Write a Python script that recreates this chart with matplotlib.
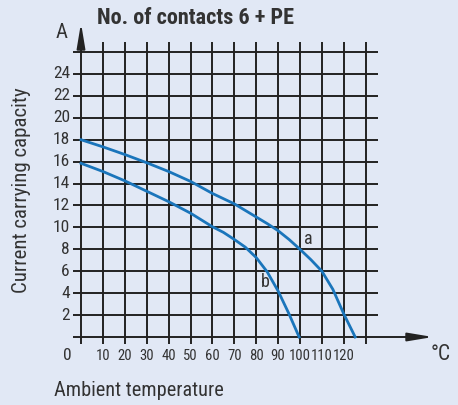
import matplotlib
matplotlib.use("Agg")
import matplotlib.pyplot as plt
from matplotlib import font_manager

# data
temp_a = [0, 10, 20, 30, 40, 50, 60, 70, 80, 85, 90, 95, 100, 105, 110, 115, 120, 125.2]
curr_a = [18.0, 17.35, 16.65, 15.9, 15.1, 14.2, 13.1, 12.15, 10.95, 10.35, 9.7, 8.9, 8.0, 7.05, 6.0, 4.35, 2.1, 0.0]
temp_b = [0, 10, 20, 30, 40, 50, 60, 65, 70, 75, 80, 85, 90, 95, 99.6]
curr_b = [15.85, 15.1, 14.25, 13.3, 12.35, 11.3, 10.06, 9.55, 8.9, 8.2, 7.25, 5.95, 4.2, 2.1, 0.0]
x_ticks = [10, 20, 30, 40, 50, 60, 70, 80, 90, 100, 110, 120]
y_ticks = [2, 4, 6, 8, 10, 12, 14, 16, 18, 20, 22, 24]
grid_x = list(range(0, 140, 10))
grid_y = list(range(2, 28, 2))
title = "No. of contacts 6 + PE"
ylabel = "Current carrying capacity"
xlabel = "Ambient temperature"

BG = "#e1e8f5"
INK = "#222222"
TXT = "#333333"
BLUE = "#1a75bb"

names = {f.name for f in font_manager.fontManager.ttflist}
narrow = None
for cand in ["Liberation Sans Narrow", "Roboto Condensed", "Open Sans Condensed", "DejaVu Sans Condensed"]:
    if cand in names:
        narrow = cand
        break
stretch = "normal"
if narrow is None:
    fp = font_manager.FontProperties(family="DejaVu Sans", stretch="condensed")
    path = font_manager.findfont(fp)
    if "Condensed" in path:
        narrow = "DejaVu Sans"
        stretch = "condensed"
    else:
        narrow = "Liberation Sans"
FONT = [narrow, "DejaVu Sans"]
plt.rcParams["font.family"] = FONT
plt.rcParams["font.stretch"] = stretch

W, H = 458, 405
fig = plt.figure(figsize=(W / 100, H / 100), dpi=100, facecolor=BG)
px0, px1, py0, py1 = 60, 440, 20, 350
ax = fig.add_axes([px0 / W, 1 - py1 / H, (px1 - px0) / W, (py1 - py0) / H])
ax.set_facecolor(BG)
ax.axis("off")
sx, ox = 2.19, 81
sy, oy = 10.96, 337
ax.set_xlim((px0 - ox) / sx, (px1 - ox) / sx)
ax.set_ylim((oy - py1) / sy, (oy - py0) / sy)

ytop = (oy - 42) / sy
ybot = (oy - 344) / sy
xleft = (73 - ox) / sx
xright = (378 - ox) / sx
for gx in grid_x:
    ax.plot([gx, gx], [ybot, ytop], color=INK, lw=1.4, solid_capstyle="butt", zorder=2)
for gy in grid_y:
    ax.plot([xleft, xright], [gy, gy], color=INK, lw=1.4, solid_capstyle="butt", zorder=2)
ax.plot([xleft, (414 - ox) / sx], [0, 0], color=INK, lw=1.4, solid_capstyle="butt", zorder=2)
ax.annotate("", xy=((433 - ox) / sx, 0), xytext=((412 - ox) / sx, 0),
            arrowprops=dict(arrowstyle="-|>,head_length=1.5,head_width=0.25", color=INK, lw=1.4,
                            shrinkA=0, shrinkB=0))
ax.annotate("", xy=(0, (oy - 23) / sy), xytext=(0, (oy - 43) / sy),
            arrowprops=dict(arrowstyle="-|>,head_length=1.5,head_width=0.25", color=INK, lw=1.4,
                            shrinkA=0, shrinkB=0))

ax.plot(temp_a, curr_a, color=BLUE, lw=2.0, zorder=3, solid_joinstyle="round")
ax.plot(temp_b, curr_b, color=BLUE, lw=2.0, zorder=3, solid_joinstyle="round")
ax.text(102.0, 8.95, "a", color=TXT, fontsize=13, ha="left", va="center", zorder=4)
ax.text(82.3, 5.05, "b", color=TXT, fontsize=13, ha="left", va="center", zorder=4)

# x tick font size fitted so that "100" fits in the 22 px grid spacing
probe = fig.text(0, 0, "100", fontsize=12)
fig.canvas.draw()
r = fig.canvas.get_renderer()
xtick_fs = min(13, 12 * 21.5 / probe.get_window_extent(r).width)
probe.remove()
ytick_fs = 12.5

for t in y_ticks:
    ax.text((70 - ox) / sx, t, str(t), ha="right", va="center", fontsize=ytick_fs, color=TXT)
ylab = (oy - 356) / sy
for t in x_ticks:
    ax.text(t, ylab, str(t), ha="center", va="center", fontsize=xtick_fs, color=TXT)
ax.text((67 - ox) / sx, ylab, "0", ha="center", va="center", fontsize=ytick_fs, color=TXT)
ax.text((441 - ox) / sx, (oy - 355) / sy, "°C", ha="center", va="center", fontsize=15.5, color=TXT)
ax.text((62 - ox) / sx, (oy - 33) / sy, "A", ha="center", va="center", fontsize=15, color=TXT)

t1 = fig.text(97 / W, 1 - 18 / H, title, ha="left", va="center",
              fontsize=13, fontweight="bold", color=TXT)
t2 = fig.text(22 / W, 1 - 190 / H, ylabel, ha="center", va="center",
              rotation=90, fontsize=13, color=TXT)
t3 = fig.text(54 / W, 1 - 390 / H, xlabel, ha="left", va="center",
              fontsize=13, color=TXT)

fig.canvas.draw()
for txt, target, vertical in [(t1, 203, False), (t2, 205, True), (t3, 168, False)]:
    bb = txt.get_window_extent(r)
    cur = bb.height if vertical else bb.width
    txt.set_fontsize(min(16, txt.get_fontsize() * target / cur))

fig.savefig("out.png", dpi=100, facecolor=BG)
